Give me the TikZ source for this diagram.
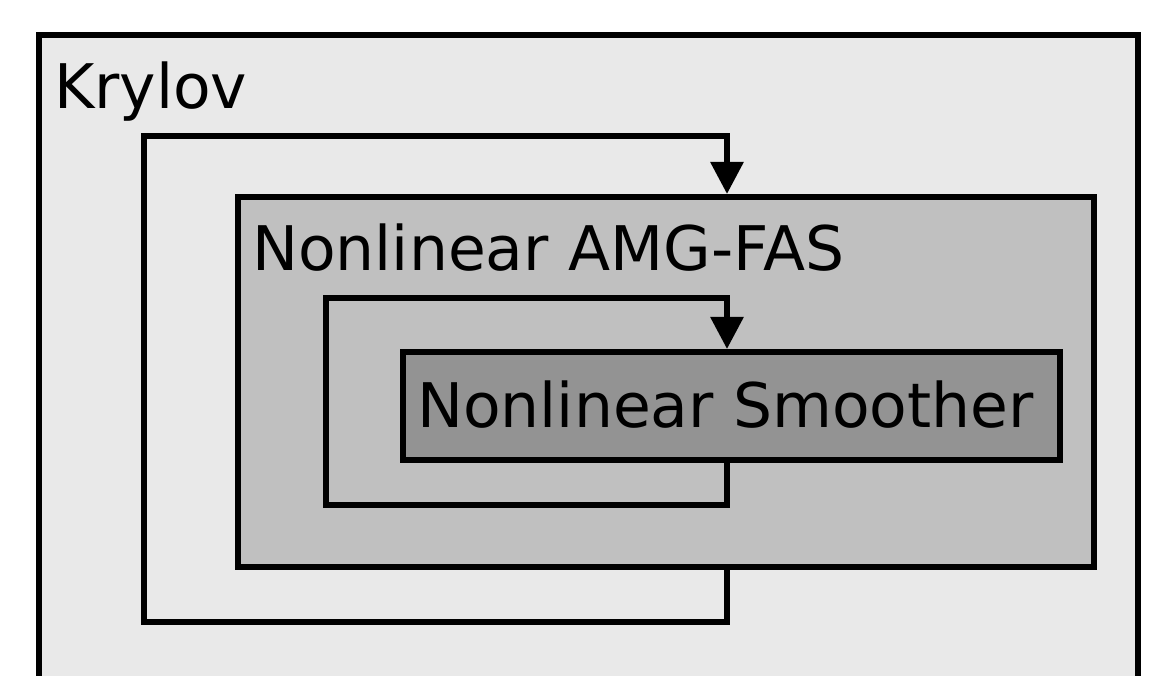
\documentclass[tikz,border=0pt]{standalone}
\usepackage{fontspec}
\setmainfont{DejaVu Sans}
\usetikzlibrary{arrows.meta}
\definecolor{krylovfill}{RGB}{233,233,233}
\definecolor{amgfill}{RGB}{192,192,192}
\definecolor{smoothfill}{RGB}{147,147,147}
\tikzset{
  layerbox/.style={draw=black, line width=6pt, line join=miter, inner sep=0pt,
    anchor=north west, rectangle},
  layerlabel/.style={anchor=base west, inner sep=0pt,
    font=\fontsize{61.5}{74}\selectfont},
  flow/.style={draw=black, line width=6pt, line join=miter,
    -{Triangle[length=32pt, width=32pt]}},
}
\begin{document}
\begin{tikzpicture}[x=1pt, y=-1pt]
  \useasboundingbox (0,0) rectangle (1157,676);
  \clip (0,0) rectangle (1157,676);
  \fill[white] (0,0) rectangle (1157,676);

  % nested solver layers
  \node[layerbox, fill=krylovfill, minimum width=1099pt, minimum height=700pt]
    (krylov) at (36,32) {};
  \node[layerbox, fill=amgfill, minimum width=856pt, minimum height=370pt]
    (amg) at (235,194) {};
  \node[layerbox, fill=smoothfill, minimum width=657pt, minimum height=108pt]
    (smooth) at (400,349) {};

  \node[layerlabel] (krylovlabel) at (54,109) {Krylov};
  \node[layerlabel] (amglabel) at (252,271) {Nonlinear AMG-FAS};
  \node[layerlabel] (smoothlabel) at (417,427) {Nonlinear Smoother};

  % loop corners
  \coordinate (kx) at (727,0);
  \coordinate (outerbottom) at (144,622);
  \coordinate (outertop) at (144,136);
  \coordinate (innerbottom) at (326,505);
  \coordinate (innertop) at (326,298);

  % outer iteration: AMG-FAS output fed back into the Krylov step
  \draw[flow] (amg.south -| kx) |- (outerbottom) -- (outertop)
    -| (amg.north -| kx);
  % inner iteration: smoother output fed back into AMG-FAS
  \draw[flow] (smooth.south -| kx) |- (innerbottom) -- (innertop)
    -| (smooth.north -| kx);
\end{tikzpicture}
\end{document}
